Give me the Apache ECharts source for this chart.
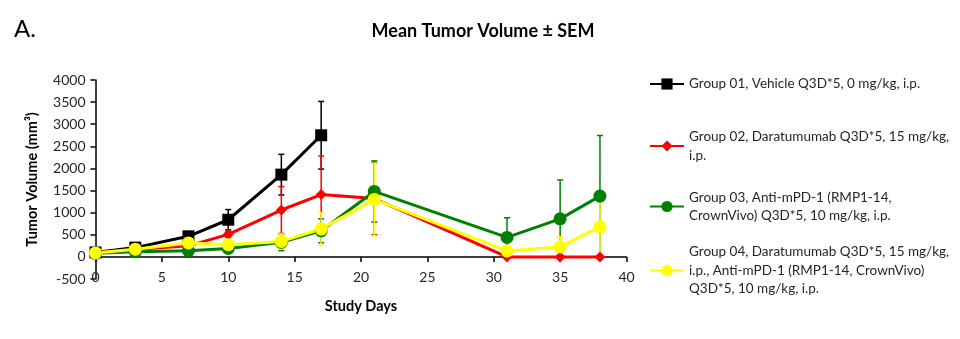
<!DOCTYPE html>
<html>
<head>
<meta charset="utf-8">
<script src="https://cdn.jsdelivr.net/npm/echarts@6/dist/echarts.min.js"></script>
<style>html,body{margin:0;padding:0;background:#fff;}#c{width:960px;height:339px;}</style>
</head>
<body>
<div id="c"></div>
<script>
const FONT = 'Lato';
const xTicks = [0, 5, 10, 15, 20, 25, 30, 35, 40];
const yTicks = [-500, 0, 500, 1000, 1500, 2000, 2500, 3000, 3500, 4000];

const groupNames = [
  'Group 01, Vehicle Q3D*5, 0 mg/kg, i.p.',
  'Group 02, Daratumumab Q3D*5, 15 mg/kg,\ni.p.',
  'Group 03, Anti-mPD-1 (RMP1-14,\nCrownVivo) Q3D*5, 10 mg/kg, i.p.',
  'Group 04, Daratumumab Q3D*5, 15 mg/kg,\ni.p., Anti-mPD-1 (RMP1-14, CrownVivo)\nQ3D*5, 10 mg/kg, i.p.'
];
const colors = ['#000000', '#ff0000', '#008000', '#ffff00'];

const days1 = [0, 3, 7, 10, 14, 17];
const mean1 = [100, 210, 465, 840, 1860, 2750];
const sem1  = [15, 30, 60, 230, 460, 765];

const days2 = [0, 3, 7, 10, 14, 17, 21, 31, 35, 38];
const mean2 = [100, 165, 250, 510, 1060, 1410, 1320, 0, 0, 0];
const sem2  = [10, 25, 40, 70, 530, 870, 820, 0, 0, 0];

const days3 = [0, 3, 7, 10, 14, 17, 21, 31, 35, 38];
const mean3 = [80, 115, 140, 190, 330, 590, 1480, 440, 860, 1375];
const sem3  = [10, 20, 25, 40, 190, 270, 690, 445, 880, 1370];

const days4 = [0, 3, 7, 10, 14, 17, 21, 31, 35, 38];
const mean4 = [90, 175, 315, 275, 350, 630, 1300, 135, 225, 680];
const sem4  = [10, 25, 40, 50, 170, 370, 820, 20, 230, 680];

const groups = [
  {days: days1, mean: mean1, sem: sem1, symbol: 'rect', size: 12},
  {days: days2, mean: mean2, sem: sem2, symbol: 'diamond', size: 11},
  {days: days3, mean: mean3, sem: sem3, symbol: 'circle', size: 13},
  {days: days4, mean: mean4, sem: sem4, symbol: 'circle', size: 13}
];

function errSeries(g, color) {
  return {
    type: 'custom',
    clip: false,
    silent: true,
    data: g.days.map((d, i) => [d, g.mean[i], g.sem[i]]),
    encode: {x: 0, y: 1},
    renderItem: function (params, api) {
      const x = api.value(0), m = api.value(1), s = api.value(2);
      if (!s) return null;
      const t = api.coord([x, m + s]);
      const b = api.coord([x, m - s]);
      const w = 3;
      const st = {stroke: color, lineWidth: 1.5};
      return {type: 'group', children: [
        {type: 'line', shape: {x1: t[0], y1: t[1], x2: b[0], y2: b[1]}, style: st},
        {type: 'line', shape: {x1: t[0] - w, y1: t[1], x2: t[0] + w, y2: t[1]}, style: st},
        {type: 'line', shape: {x1: b[0] - w, y1: b[1], x2: b[0] + w, y2: b[1]}, style: st}
      ]};
    }
  };
}

function lineSeries(g, i) {
  return {
    type: 'line',
    name: groupNames[i],
    data: g.days.map((d, k) => [d, g.mean[k]]),
    symbol: g.symbol,
    symbolSize: g.size,
    showAllSymbol: true,
    lineStyle: {color: colors[i], width: 3},
    itemStyle: {color: colors[i], opacity: 1},
    emphasis: {disabled: true},
    z: 3
  };
}

const series = [];
groups.forEach((g, i) => series.push(errSeries(g, colors[i])));
groups.forEach((g, i) => series.push(lineSeries(g, i)));

const LH = 18.5;
const legendIconCenters = [84, 146, 206.5, 270.5];
const legends = groupNames.map((n, i) => {
  const lines = n.split('\n').length;
  return {
    data: [n],
    orient: 'vertical',
    left: 649,
    top: legendIconCenters[i] - (2 * lines - 1) * LH / 2,
    padding: 0,
    itemWidth: 34,
    itemHeight: 14,
    itemGap: 0,
    selectedMode: false,
    textStyle: {
      fontFamily: FONT, fontSize: 13.5, color: '#262626', lineHeight: LH,
      padding: [(lines - 1) * LH, 0, 0, 0]
    }
  };
});

const chart = echarts.init(document.getElementById('c'), null, {renderer: 'canvas'});
chart.setOption({
  animation: false,
  backgroundColor: '#ffffff',
  title: [
    {text: 'Mean Tumor Volume ± SEM', left: 478, top: 17, textAlign: 'center',
     textStyle: {fontFamily: FONT, fontSize: 18, fontWeight: 'bold', color: '#000'}},
    {text: 'A.', left: 9, top: 12,
     textStyle: {fontFamily: FONT, fontSize: 24, fontWeight: 'normal', color: '#000'}}
  ],
  legend: legends,
  grid: {left: 95.5, top: 80, width: 531, height: 199, containLabel: false},
  xAxis: {
    type: 'value', min: xTicks[0], max: xTicks[xTicks.length - 1], interval: 5,
    name: 'Study Days', nameLocation: 'middle', nameGap: 20,
    nameTextStyle: {fontFamily: FONT, fontSize: 14.5, fontWeight: 'bold', color: '#000'},
    axisLine: {onZero: true, lineStyle: {color: '#000', width: 1.5}},
    axisTick: {show: true, inside: false, length: 5, lineStyle: {color: '#000', width: 1.5}},
    axisLabel: {margin: -9, fontFamily: FONT, fontSize: 14, color: '#262626'},
    splitLine: {show: false}
  },
  yAxis: {
    type: 'value', min: yTicks[0], max: yTicks[yTicks.length - 1], interval: 500,
    name: 'Tumor Volume (mm³)', nameLocation: 'middle', nameGap: 56,
    nameTextStyle: {fontFamily: FONT, fontSize: 14.5, fontWeight: 'bold', color: '#000'},
    axisLine: {show: true, lineStyle: {color: '#000', width: 1.5}},
    axisTick: {show: true, inside: false, length: 5, lineStyle: {color: '#000', width: 1.5}},
    axisLabel: {margin: 10, fontFamily: FONT, fontSize: 14, color: '#262626',
                formatter: v => String(v)},
    splitLine: {show: false}
  },
  series: series
});
</script>
</body>
</html>
